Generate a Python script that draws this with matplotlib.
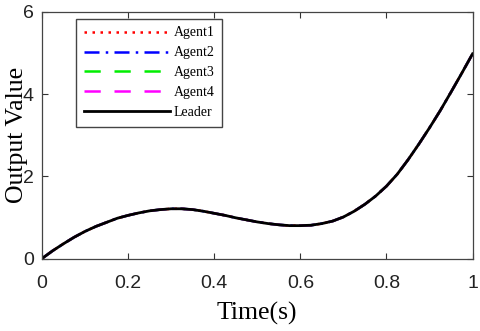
import matplotlib
matplotlib.use("Agg")
import matplotlib.pyplot as plt

# values
t = [0, 0.025, 0.05, 0.075, 0.1, 0.125, 0.15, 0.175, 0.2, 0.225, 0.25, 0.275, 0.3,
     0.325, 0.35, 0.375, 0.4, 0.425, 0.45, 0.475, 0.5, 0.525, 0.55, 0.575, 0.6,
     0.625, 0.65, 0.675, 0.7, 0.725, 0.75, 0.775, 0.8, 0.825, 0.85, 0.875, 0.9,
     0.925, 0.95, 0.975, 1.0]
leader = [0, 0.19, 0.36, 0.52, 0.66, 0.78, 0.88, 0.98, 1.05, 1.11, 1.16, 1.19, 1.21,
          1.21, 1.19, 1.15, 1.10, 1.05, 0.99, 0.94, 0.89, 0.85, 0.82, 0.80, 0.80,
          0.81, 0.85, 0.91, 1.01, 1.15, 1.32, 1.52, 1.76, 2.05, 2.40, 2.78, 3.18,
          3.60, 4.05, 4.51, 4.98]
agent1 = list(leader)
agent2 = list(leader)
agent3 = list(leader)
agent4 = list(leader)
xticks = [0, 0.2, 0.4, 0.6, 0.8, 1]
xticklabels = ["0", "0.2", "0.4", "0.6", "0.8", "1"]
yticks = [0, 2, 4, 6]

fig = plt.figure(figsize=(4.8, 3.31), dpi=100)
ax = fig.add_axes([0.0875, 0.219, 0.897, 0.745])

ax.plot(t, agent1, color="red", linestyle=(0, (1, 2.2)), linewidth=1.8, label="Agent1")
ax.plot(t, agent2, color="blue", linestyle=(0, (6, 2.5, 1, 2.5)), linewidth=1.8, label="Agent2")
ax.plot(t, agent3, color="#00ee00", linestyle=(0, (6.5, 5.5)), linewidth=1.8, label="Agent3")
ax.plot(t, agent4, color="magenta", linestyle=(0, (6.5, 5.5)), linewidth=1.8, label="Agent4")
ax.plot(t, leader, color="black", linewidth=2.0, label="Leader")

ax.set_xlim(0, 1)
ax.set_ylim(0, 6)
ax.set_xticks(xticks)
ax.set_xticklabels(xticklabels)
ax.set_yticks(yticks)
ax.tick_params(direction="in", length=4, width=0.8, top=True, right=True,
               labelsize=14, colors="#333333")
ax.tick_params(axis="x", pad=12)
ax.tick_params(axis="y", pad=6)
for lab in ax.get_xticklabels() + ax.get_yticklabels():
    lab.set_fontfamily("Liberation Sans")
    lab.set_color("#222222")
for s in ax.spines.values():
    s.set_color("#444444")
    s.set_linewidth(0.9)

ax.set_xlabel("Time(s)", fontfamily="Liberation Serif", fontsize=18.5, labelpad=7)
ax.set_ylabel("Output Value", fontfamily="Liberation Serif", fontsize=18.5, labelpad=-4)

leg = ax.legend(loc="upper left", bbox_to_anchor=(0.079, 0.972), borderaxespad=0,
                prop={"family": "Liberation Serif", "size": 10}, handlelength=6.2,
                fancybox=False, framealpha=1, edgecolor="#444444",
                labelspacing=0.5, handletextpad=0.3, borderpad=0.55)
leg.get_frame().set_linewidth(1.0)

fig.savefig("out.png", dpi=100)
